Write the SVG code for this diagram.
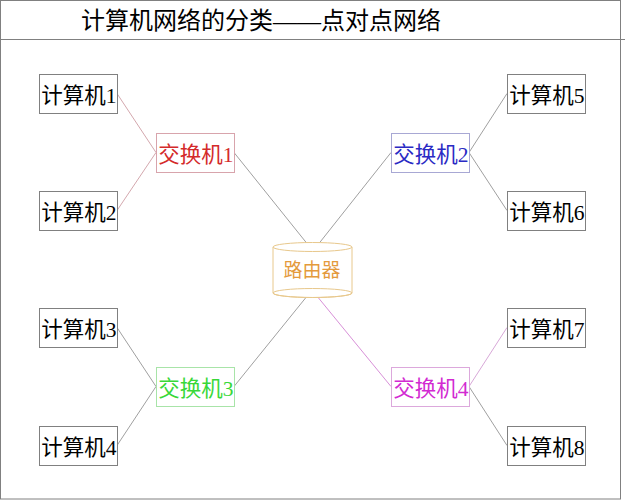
<svg xmlns="http://www.w3.org/2000/svg" width="625" height="500" viewBox="0 0 625 500">
<style>
text{font-family:"Liberation Serif","Noto Sans CJK SC",serif;text-anchor:middle}
.pc rect{fill:#fff;stroke:#808080;stroke-width:1}
.pc text{font-size:21.5px;fill:#000}
.sw text{font-size:21.5px}
.ln{fill:none;stroke-width:1}
</style>
<rect x="0.5" y="0.5" width="620" height="498.5" fill="#fff" stroke="#808080"/>
<line x1="0" y1="39.5" x2="625" y2="39.5" stroke="#808080"/>
<text id="title" x="261" y="29" style="font-size:24px;fill:#000">计算机网络的分类——点对点网络</text>
<g id="connectors">
<line class="ln" x1="117" y1="93.5" x2="156" y2="152.5" stroke="#d4a8ae"/>
<line class="ln" x1="117" y1="210.5" x2="156" y2="152.5" stroke="#d4a8ae"/>
<line class="ln" x1="234" y1="152.5" x2="313" y2="251" stroke="#a0a0a0"/>
<line class="ln" x1="391" y1="152.5" x2="313" y2="251" stroke="#a0a0a0"/>
<line class="ln" x1="469" y1="152.5" x2="507" y2="93.5" stroke="#a0a0a0"/>
<line class="ln" x1="469" y1="152.5" x2="507" y2="210.5" stroke="#a0a0a0"/>
<line class="ln" x1="117" y1="327.5" x2="156" y2="386.5" stroke="#a0a0a0"/>
<line class="ln" x1="117" y1="445.5" x2="156" y2="386.5" stroke="#a0a0a0"/>
<line class="ln" x1="234" y1="386.5" x2="312" y2="290" stroke="#a0a0a0"/>
<line class="ln" x1="391" y1="386.5" x2="312" y2="290" stroke="#d890d8"/>
<line class="ln" x1="469" y1="386.5" x2="507" y2="327.5" stroke="#d8a8d8"/>
<line class="ln" x1="469" y1="386.5" x2="507" y2="445.5" stroke="#a0a0a0"/>
</g>
<g id="pc1" class="pc"><rect x="39.5" y="74.5" width="78" height="39"/><text x="79" y="103">计算机1</text></g>
<g id="pc2" class="pc"><rect x="39.5" y="191.5" width="78" height="39"/><text x="79" y="220">计算机2</text></g>
<g id="pc3" class="pc"><rect x="39.5" y="308.5" width="78" height="39"/><text x="79" y="337">计算机3</text></g>
<g id="pc4" class="pc"><rect x="39.5" y="426.5" width="78" height="39"/><text x="79" y="455">计算机4</text></g>
<g id="pc5" class="pc"><rect x="507.5" y="74.5" width="78" height="39"/><text x="547" y="103">计算机5</text></g>
<g id="pc6" class="pc"><rect x="507.5" y="191.5" width="78" height="39"/><text x="547" y="220">计算机6</text></g>
<g id="pc7" class="pc"><rect x="507.5" y="308.5" width="78" height="39"/><text x="547" y="337">计算机7</text></g>
<g id="pc8" class="pc"><rect x="507.5" y="426.5" width="78" height="39"/><text x="547" y="455">计算机8</text></g>
<g id="sw1" class="sw"><rect x="156.5" y="133.5" width="78" height="39" fill="#fff" stroke="#d8a4ac"/><text x="196" y="162" fill="#d42a2a">交换机1</text></g>
<g id="sw2" class="sw"><rect x="391.5" y="133.5" width="78" height="39" fill="#fff" stroke="#a8a8d4"/><text x="431" y="162" fill="#2a2ac4">交换机2</text></g>
<g id="sw3" class="sw"><rect x="156.5" y="367.5" width="78" height="39" fill="#fff" stroke="#a8e4a8"/><text x="196" y="396" fill="#38d838">交换机3</text></g>
<g id="sw4" class="sw"><rect x="391.5" y="367.5" width="78" height="39" fill="#fff" stroke="#dca8dc"/><text x="431" y="396" fill="#d22ad2">交换机4</text></g>
<g id="router">
<path d="M273,247 L273,293 A39.5,4.5 0 0 0 352,293 L352,247" fill="#fff" stroke="#e8c88c"/>
<ellipse cx="312.5" cy="293" rx="39.5" ry="4.5" fill="none" stroke="#e8c88c"/>
<ellipse cx="312.5" cy="247" rx="39.5" ry="4.5" fill="#fff" stroke="#e8c88c"/>
<text x="312" y="277" style="font-size:19px;fill:#e49a3c">路由器</text>
</g>
</svg>
